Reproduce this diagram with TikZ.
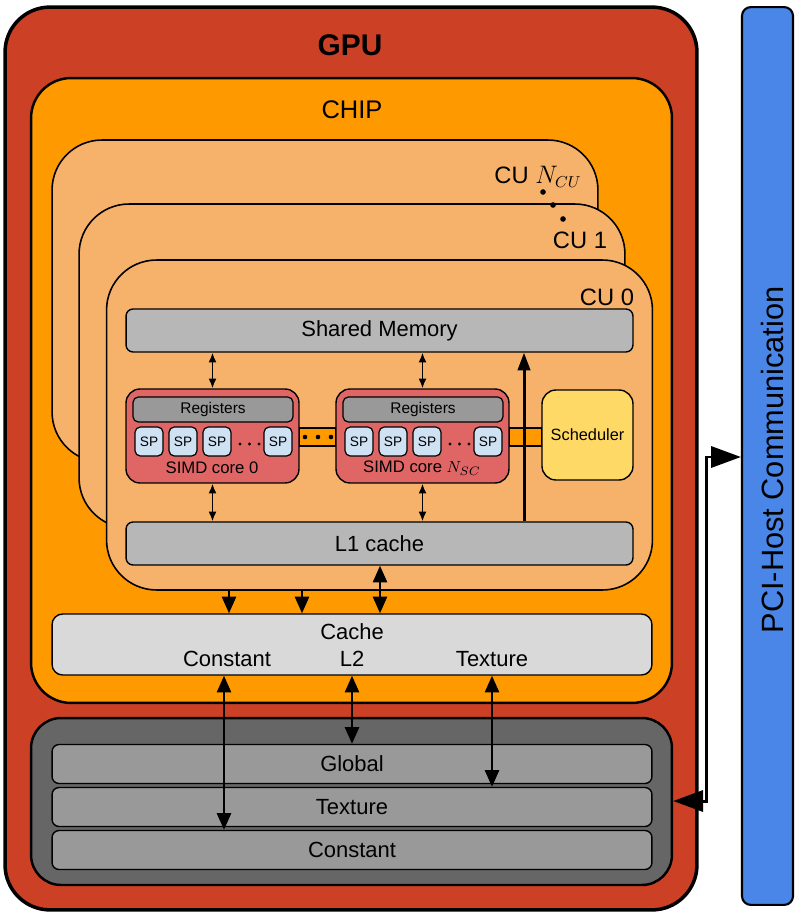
\documentclass[tikz,border=0pt]{standalone}
\usepackage{fontspec}
\setmainfont{Liberation Sans}
\usetikzlibrary{arrows.meta}

\definecolor{gpured}{HTML}{CC4125}
\definecolor{chiporange}{HTML}{FF9900}
\definecolor{cuorange}{HTML}{F6B26B}
\definecolor{simdred}{HTML}{E06666}
\definecolor{regsgray}{HTML}{999999}
\definecolor{spblue}{HTML}{CFE2F3}
\definecolor{shmemgray}{HTML}{B7B7B7}
\definecolor{schedyellow}{HTML}{FFD966}
\definecolor{cachegray}{HTML}{D9D9D9}
\definecolor{memgray}{HTML}{666666}
\definecolor{pciblue}{HTML}{4A86E8}

\newcommand{\fs}[1]{\fontsize{#1}{1.2\dimexpr#1pt\relax}\selectfont}

\begin{document}
\begin{tikzpicture}[x=0.02cm,y=-0.02cm,
  box/.style={draw,rounded corners=#1,inner sep=0pt},
  box/.default=4pt,
  cubox/.style={box=1cm,fill=cuorange,line width=0.9pt,minimum width=10.92cm},
  membar/.style={box=4pt,fill=shmemgray,line width=0.8pt,minimum width=10.14cm,minimum height=0.86cm,font=\fs{12.5}},
  simd/.style={box=0.28cm,fill=simdred,line width=0.8pt,minimum width=3.46cm,minimum height=1.88cm},
  regs/.style={box=3pt,fill=regsgray,line width=0.7pt,minimum width=3.2cm,minimum height=0.5cm,font=\fs{8.8}},
  sp/.style={box=3pt,fill=spblue,line width=0.7pt,minimum width=0.56cm,minimum height=0.58cm,font=\fs{7.8}},
  globbar/.style={box=4pt,fill=regsgray,line width=0.8pt,minimum width=12cm,minimum height=0.78cm,font=\fs{12.5}},
  label/.style={inner sep=0pt,font=\fs{12.5}},
  thinarrow/.style={line width=0.85pt,{Latex[length=5.5pt,width=4.5pt]}-{Latex[length=5.5pt,width=4.5pt]}},
  bigarrow/.style={line width=1.4pt,-{Triangle[length=9.5pt,width=8pt]}},
  bigboth/.style={line width=1.4pt,{Triangle[length=9.5pt,width=8pt]}-{Triangle[length=9.5pt,width=8pt]}}]
  \useasboundingbox (0,0) rectangle (796,912);

  \node[box=0.9cm,fill=gpured,line width=2pt,minimum width=13.84cm,minimum height=18.06cm] (gpu) at (351,458.5) {};
  \node[font=\bfseries\fs{17}] (gputitle) at (350,45) {GPU};
  \node[box=0.8cm,fill=chiporange,line width=1.4pt,minimum width=12.82cm,minimum height=12.5cm] (chip) at (351.5,390.5) {};
  \node[font=\fs{14.5}] (chiptitle) at (352,110) {CHIP};

  \node[cubox,minimum height=6.44cm] (cun) at (325,301) {};
  \node[label,font=\fs{13.5}] (cuntitle) at (538,177) {CU $N_{CU}$};
  \node[cubox,minimum height=6.48cm] (cu1) at (352,366) {};
  \node[label,font=\fs{13.5}] (cu1title) at (580,240) {CU 1};
  \node[cubox,minimum height=6.6cm] (cu0) at (379.5,425) {};
  \node[label,font=\fs{13.5}] (cu0title) at (607,297) {CU 0};
  \fill (543,192) circle (1.6pt) (553,205) circle (1.6pt) (563,219) circle (1.6pt);

  \node[membar] (shmem) at (379.5,330.5) {Shared Memory};
  \node[membar] (l1) at (379.5,543.5) {L1 cache};

  \foreach \k/\dx in {0/0,1/210} {
    \node[simd] (core\k) at (212.5+\dx,436) {};
    \node[regs] (regs\k) at (213+\dx,409.5) {Registers};
    \foreach \i/\sx in {1/149,2/183,3/217,4/278}
      \node[sp] (sp\k-\i) at (\sx+\dx,441.5) {SP};
    \foreach \sx in {240,249.5,259}
      \fill (\sx+\dx,444) circle (0.9pt);
    \draw[thinarrow] (shmem.south -| core\k) -- (core\k.north);
    \draw[thinarrow] (core\k.south) -- (l1.north -| core\k);
  }
  \node[label,font=\fs{9.5}] (corelabel0) at (212,468) {SIMD core 0};
  \node[label,font=\fs{9.5}] (corelabel1) at (422,468) {SIMD core $N_{SC}$};

  \node[box=0.28cm,fill=schedyellow,line width=0.8pt,minimum width=1.82cm,minimum height=1.8cm,font=\fs{9.3}] (sched) at (587.5,435) {Scheduler};

  % links between the cores and to the scheduler
  \draw[fill=chiporange,line width=0.7pt] (core0.east |- 0,428) rectangle (core1.west |- 0,446);
  \draw[fill=chiporange,line width=0.7pt] (core1.east |- 0,428) rectangle (sched.west |- 0,446);
  \foreach \sx in {305,318,331}
    \fill (\sx,437) circle (1.3pt);
  \draw[line width=1.7pt,-{Triangle[length=10pt,width=7pt]}] (l1.north -| 524,0) -- (shmem.south -| 524,0);

  \node[box=6pt,fill=cachegray,line width=0.8pt,minimum width=12cm,minimum height=1.22cm] (cache) at (352,644.5) {};
  \node[label] (cachetitle) at (352,632) {Cache};
  \node[label] (cacheconst) at (227,659) {Constant};
  \node[label] (cachel2) at (352,659) {L2};
  \node[label] (cachetex) at (492,659) {Texture};

  \draw[bigarrow] (cu0.south -| 229,0) -- (cache.north -| 229,0);
  \draw[bigarrow] (cu0.south -| 302,0) -- (cache.north -| 302,0);
  \draw[bigboth] (l1.south -| 380,0) -- (cache.north -| 380,0);

  \node[box=0.6cm,fill=memgray,line width=1.4pt,minimum width=12.82cm,minimum height=3.34cm] (mem) at (351.5,801.5) {};
  \node[globbar] (global) at (352,764) {Global};
  \node[globbar] (texmem) at (352,807) {Texture};
  \node[globbar] (constmem) at (352,850) {Constant};

  \draw[bigboth] (cache.south -| 224,0) -- (constmem.north -| 224,0);
  \draw[bigboth] (cache.south -| 352,0) -- (global.north -| 352,0);
  \draw[bigboth] (cache.south -| 492,0) -- (texmem.north -| 492,0);

  \node[box=5pt,fill=pciblue,line width=1.2pt,minimum width=1.02cm,minimum height=17.96cm] (pci) at (767.5,456) {};
  \node[label,rotate=90,font=\fs{17.5}] (pcititle) at (772,460) {PCI-Host Communication};

  \coordinate (pcitop) at (706,457);
  \coordinate (pcibottom) at (706,801);
  \draw[line width=1.7pt,{Triangle[length=17pt,width=12pt]}-{Triangle[length=17pt,width=12pt]}]
    (mem.east |- pcibottom) -- (pcibottom) -- (pcitop) -- (pci.west |- pcitop);
\end{tikzpicture}
\end{document}
